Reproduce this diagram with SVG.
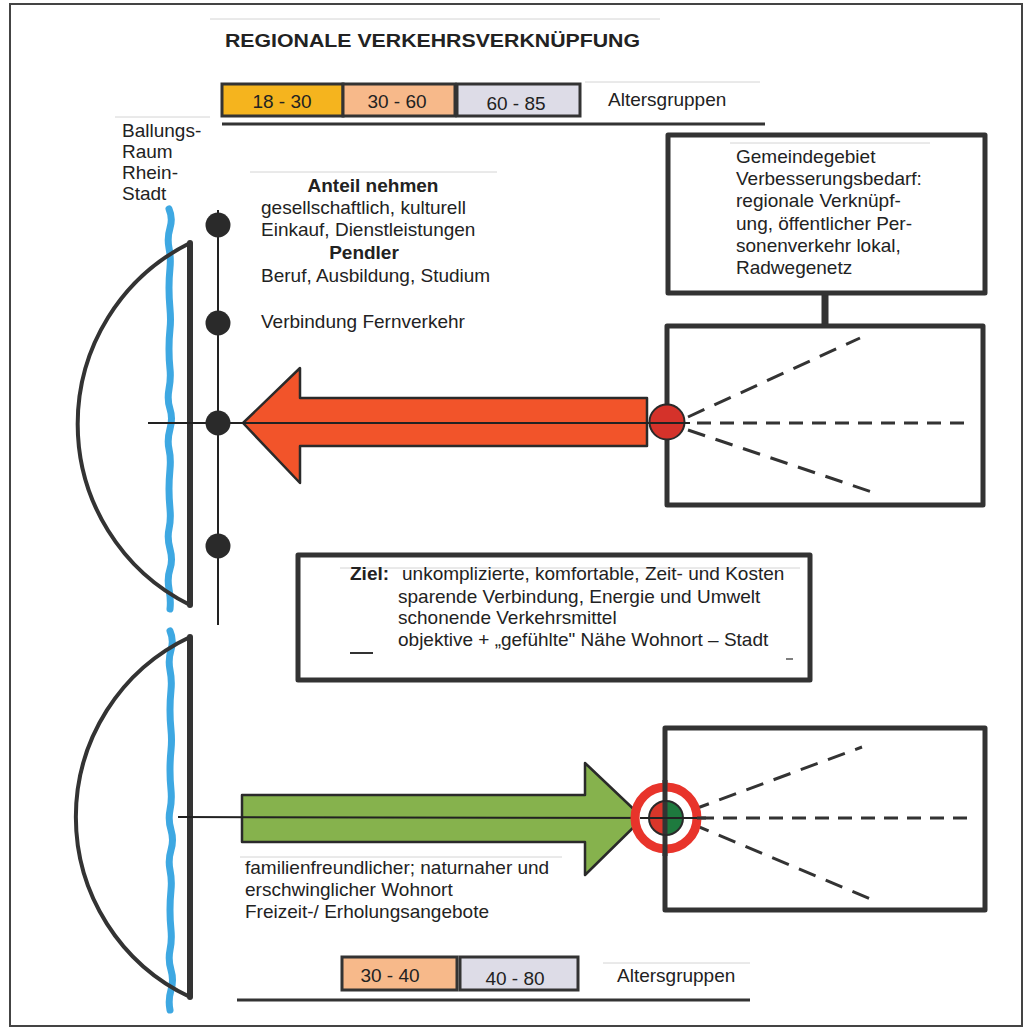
<svg xmlns="http://www.w3.org/2000/svg" width="1032" height="1029" viewBox="0 0 1032 1029">
<style>
.t{font-family:"Liberation Sans",Arial,sans-serif;font-size:19px;fill:#222}
.b{font-weight:bold}
.faint{stroke:#d4d4d4;stroke-width:1;fill:none}
.thick{stroke:#333;stroke-width:6;fill:none;stroke-linecap:round}
.box{stroke:#333;stroke-width:5;stroke-linejoin:round}
.thin{stroke:#222;stroke-width:2;fill:none}
.arc{stroke:#333;stroke-width:4;fill:none;stroke-linecap:round}
.river{stroke:#3ea8e2;stroke-width:7;fill:none;stroke-linecap:round;stroke-linejoin:round}
.dash{stroke:#333;stroke-width:3;fill:none;stroke-dasharray:18 11}
.dash2{stroke:#333;stroke-width:3;fill:none;stroke-dasharray:14 9}
.age{stroke:#333;stroke-width:3}
.dot{fill:#2a2a2a}
</style>
<rect width="1032" height="1029" fill="#fff"/>
<g id="frame"><rect x="10" y="4" width="1012" height="1022" fill="none" stroke="#444" stroke-width="2"/></g>

<g id="title">
<line class="faint" x1="210" y1="19" x2="660" y2="19"/>
<text class="t b" x="225" y="47" font-size="22" textLength="415" lengthAdjust="spacingAndGlyphs">REGIONALE VERKEHRSVERKNÜPFUNG</text>
</g>

<g id="age-top">
<rect class="age" x="222" y="84" width="121" height="32" fill="#f5b41e"/>
<rect class="age" x="343" y="84" width="112" height="32" fill="#f7b98a"/>
<rect class="age" x="457" y="84" width="123" height="32" fill="#dddce7"/>
<text class="t" x="282" y="108" text-anchor="middle">18 - 30</text>
<text class="t" x="397" y="108" text-anchor="middle">30 - 60</text>
<text class="t" x="516" y="110" text-anchor="middle">60 - 85</text>
<line class="faint" x1="585" y1="82" x2="760" y2="82"/>
<text class="t" x="608" y="106">Altersgruppen</text>
<line x1="222" y1="124" x2="765" y2="124" stroke="#333" stroke-width="3"/>
</g>

<g id="label-ballungsraum">
<line class="faint" x1="115" y1="117" x2="210" y2="117"/>
<text class="t" x="122" y="137">Ballungs-</text>
<text class="t" x="122" y="158">Raum</text>
<text class="t" x="122" y="179">Rhein-</text>
<text class="t" x="122" y="200">Stadt</text>
</g>

<g id="city-top">
<path class="river" d="M169,209 q4,9 1,19 t-1,20 t1,20 t-1,20 t1,21 t0,20 t-1,20 t1,20 t-1,20 t1,20 t0,20 t-1,20 t1,20 t-1,20 t1,20 t-1,20 t1,20 t0,20 t-1,20 t1,20"/>
<path class="arc" d="M190,243 A202,202 0 0 0 190,605"/>
<line class="thick" x1="190" y1="243" x2="190" y2="605"/>
</g>

<g id="city-bottom">
<path class="river" d="M170,631 q4,9 1,19 t-1,20 t1,20 t-1,20 t1,20 t0,20 t-1,20 t1,20 t-1,20 t1,20 t0,20 t-1,20 t1,20 t-1,20 t1,20 t-1,20 t1,20 t0,20 t-1,20"/>
<path class="arc" d="M190,637 A199,199 0 0 0 190,997"/>
<line class="thick" x1="190" y1="637" x2="190" y2="997"/>
</g>

<g id="connectors">
<line class="thin" x1="218" y1="210" x2="218" y2="625"/>
<path d="M243,423 L300,368 L300,398 L647,398 L647,446 L300,446 L300,483 Z" fill="#f2542a" stroke="#2a2a2a" stroke-width="2.5" stroke-linejoin="round"/>
<line class="thin" x1="148" y1="423" x2="690" y2="423"/>
<line x1="825" y1="293" x2="825" y2="326" stroke="#333" stroke-width="7"/>
<path d="M242,795 L585,795 L585,763 L643,818 L585,875 L585,842 L242,842 Z" fill="#86b24d" stroke="#2a2a2a" stroke-width="2.5" stroke-linejoin="round"/>
<line class="thin" x1="178" y1="817" x2="690" y2="818"/>
</g>

<g id="stations">
<circle class="dot" cx="218" cy="225" r="12.5"/>
<circle class="dot" cx="218" cy="323" r="12.5"/>
<circle class="dot" cx="218" cy="423" r="12.5"/>
<circle class="dot" cx="218" cy="546" r="12.5"/>
</g>

<g id="text-anteil">
<line class="faint" x1="250" y1="172" x2="497" y2="172"/>
<text class="t b" x="373" y="192" text-anchor="middle">Anteil nehmen</text>
<text class="t" x="261" y="214">gesellschaftlich, kulturell</text>
<text class="t" x="261" y="236">Einkauf, Dienstleistungen</text>
<text class="t b" x="364" y="259" text-anchor="middle">Pendler</text>
<text class="t" x="261" y="282">Beruf, Ausbildung, Studium</text>
<text class="t" x="261" y="328">Verbindung Fernverkehr</text>
</g>

<g id="box-gemeinde">
<rect class="box" x="668" y="135" width="317" height="158" fill="#fff"/>
<line class="faint" x1="730" y1="143" x2="930" y2="143"/>
<text class="t" x="736" y="163">Gemeindegebiet</text>
<text class="t" x="736" y="185">Verbesserungsbedarf:</text>
<text class="t" x="736" y="207">regionale Verknüpf-</text>
<text class="t" x="736" y="230">ung, öffentlicher Per-</text>
<text class="t" x="736" y="252">sonenverkehr lokal,</text>
<text class="t" x="736" y="274">Radwegenetz</text>
</g>

<g id="box-local-top">
<rect class="box" x="667" y="326" width="316" height="179" fill="#fff"/>
<line class="dash" x1="688" y1="417" x2="860" y2="338"/>
<line class="dash2" x1="697" y1="423" x2="967" y2="423"/>
<line class="dash" x1="688" y1="430" x2="875" y2="493"/>
<circle cx="667" cy="422" r="17.5" fill="#d5322a" stroke="#2a2a2a" stroke-width="2"/>
<line class="thin" x1="650" y1="423" x2="690" y2="423"/>
</g>

<g id="box-local-bottom">
<rect class="box" x="665" y="728" width="320" height="182" fill="#fff"/>
<line class="dash" x1="692" y1="810" x2="862" y2="747"/>
<line class="dash2" x1="700" y1="818" x2="970" y2="818"/>
<line class="dash" x1="692" y1="824" x2="873" y2="900"/>
<circle cx="666" cy="818" r="31" fill="#fff" stroke="#e8342b" stroke-width="9"/>
<path d="M666,801 A17,17 0 0 0 666,835 Z" fill="#d9362a"/>
<path d="M666,801 A17,17 0 0 1 666,835 Z" fill="#1e7a3e"/>
<line x1="665" y1="780" x2="665" y2="856" stroke="#333" stroke-width="5"/>
<circle cx="666" cy="818" r="17" fill="none" stroke="#2a2a2a" stroke-width="2"/>
<line class="thin" x1="640" y1="818" x2="700" y2="818"/>
<line x1="697" y1="818" x2="706" y2="818" stroke="#333" stroke-width="3"/>
</g>

<g id="box-ziel">
<rect class="box" x="298" y="555" width="512" height="125" fill="#fff"/>
<line class="faint" x1="340" y1="568" x2="800" y2="568"/>
<text class="t b" x="350" y="580">Ziel:</text>
<text class="t" x="402" y="580">unkomplizierte, komfortable, Zeit- und Kosten</text>
<text class="t" x="398" y="603">sparende Verbindung, Energie und Umwelt</text>
<text class="t" x="398" y="624">schonende Verkehrsmittel</text>
<text class="t" x="398" y="646">objektive + „gefühlte" Nähe Wohnort – Stadt</text>
<line x1="350" y1="653" x2="373" y2="653" stroke="#333" stroke-width="2"/>
<line x1="786" y1="659" x2="793" y2="659" stroke="#555" stroke-width="1.5"/>
</g>

<g id="text-wohnort">
<line class="faint" x1="240" y1="857" x2="562" y2="857"/>
<text class="t" x="245" y="874">familienfreundlicher; naturnaher und</text>
<text class="t" x="245" y="896">erschwinglicher Wohnort</text>
<text class="t" x="245" y="918">Freizeit-/ Erholungsangebote</text>
</g>

<g id="age-bottom">
<rect class="age" x="342" y="957" width="115" height="33" fill="#f7b98a"/>
<rect class="age" x="460" y="957" width="118" height="33" fill="#dddce7"/>
<text class="t" x="390" y="982" text-anchor="middle">30 - 40</text>
<text class="t" x="515" y="985" text-anchor="middle">40 - 80</text>
<line class="faint" x1="603" y1="963" x2="750" y2="963"/>
<text class="t" x="617" y="982">Altersgruppen</text>
<line x1="237" y1="1000" x2="750" y2="1000" stroke="#333" stroke-width="3"/>
</g>
</svg>
